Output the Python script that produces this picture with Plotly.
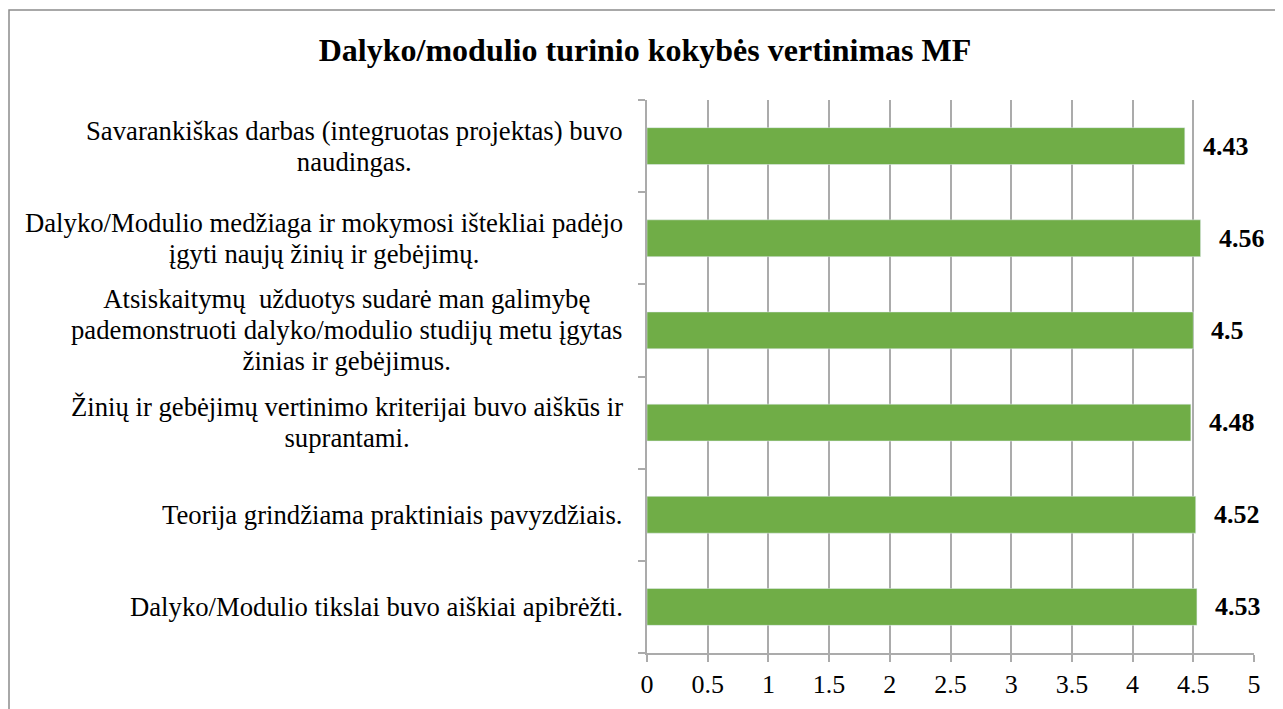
import plotly.graph_objects as go

# Klausimai (iš viršaus į apačią) ir vidutiniai įvertinimai
categories = [
    "Savarankiškas darbas (integruotas projektas) buvo<br>naudingas.",
    "Dalyko/Modulio medžiaga ir mokymosi ištekliai padėjo<br>įgyti naujų žinių ir gebėjimų.",
    "Atsiskaitymų  užduotys sudarė man galimybę<br>pademonstruoti dalyko/modulio studijų metu įgytas<br>žinias ir gebėjimus.",
    "Žinių ir gebėjimų vertinimo kriterijai buvo aiškūs ir<br>suprantami.",
    "Teorija grindžiama praktiniais pavyzdžiais.",
    "Dalyko/Modulio tikslai buvo aiškiai apibrėžti.",
]
values = [4.43, 4.56, 4.5, 4.48, 4.52, 4.53]
value_labels = ["4.43", "4.56", "4.5", "4.48", "4.52", "4.53"]
x_ticks = [0, 0.5, 1, 1.5, 2, 2.5, 3, 3.5, 4, 4.5, 5]

title = "Dalyko/modulio turinio kokybės vertinimas MF"
serif = "Liberation Serif"
grid = "#ababab"

W, H = 1283, 709
# puslapis turi 8px paraštę, todėl viskas pastumta
m = dict(l=639, r=37, t=92, b=64)

fig = go.Figure()
fig.add_trace(go.Bar(
    x=values,
    y=list(range(len(categories))),
    orientation="h",
    width=0.4,
    marker=dict(color="#70AD47"),
    hoverinfo="x",
))

# kategorijų pavadinimai (centruotos eilutės); išorinis šriftas 24 -> tankesnės eilutės
for i, cat in enumerate(categories):
    txt = "<br>".join(
        "<span style='font-size:26.7px'>" + ln + "</span>" for ln in cat.split("<br>")
    )
    fig.add_annotation(
        x=0, y=i, xref="paper", yref="y",
        text=txt, showarrow=False,
        xanchor="right", yanchor="middle", align="center",
        xshift=-22,
        font=dict(family=serif, size=24, color="black"),
    )

# reikšmių etiketės
for i, (v, lab) in enumerate(zip(values, value_labels)):
    fig.add_annotation(
        x=v, y=i, xref="x", yref="y",
        text="<b>" + lab + "</b>", showarrow=False,
        xanchor="left", yanchor="middle", xshift=16,
        font=dict(family=serif, size=26, color="black"),
    )

# rėmelis aplink diagramą
pw = W - m["l"] - m["r"]
ph = H - m["t"] - m["b"]
fig.add_shape(
    type="rect", xref="paper", yref="paper",
    x0=(1 - m["l"]) / pw, x1=(1300 - m["l"]) / pw,
    y0=(H - m["b"] - 720) / ph, y1=(H - m["b"] - 2) / ph,
    line=dict(color="#8c8c8c", width=1.5),
    layer="below",
)

fig.update_layout(
    width=W, height=H,
    margin=m,
    paper_bgcolor="white",
    plot_bgcolor="white",
    showlegend=False,
    title=dict(
        text="<b>" + title + "</b>",
        x=637 / W, xref="container", xanchor="center",
        y=1 - 42 / H, yanchor="middle",
        font=dict(family=serif, size=32, color="black"),
    ),
)

fig.update_xaxes(
    range=[0, 5],
    tickvals=x_ticks,
    ticktext=[f"{t:g}" for t in x_ticks],
    showgrid=True, gridcolor=grid, gridwidth=1.5,
    showline=True, linecolor=grid, linewidth=1.5,
    ticks="outside", ticklen=7, tickcolor=grid, tickwidth=1.5,
    zeroline=False,
    tickfont=dict(family=serif, size=26, color="black"),
)
fig.update_yaxes(
    range=[len(categories) - 0.5, -0.5],
    tickvals=[i - 0.5 for i in range(len(categories) + 1)],
    showticklabels=False,
    showgrid=False,
    showline=True, linecolor=grid, linewidth=1.5,
    ticks="outside", ticklen=7, tickcolor=grid, tickwidth=1.5,
    zeroline=False,
)

fig.write_html("out.html")
